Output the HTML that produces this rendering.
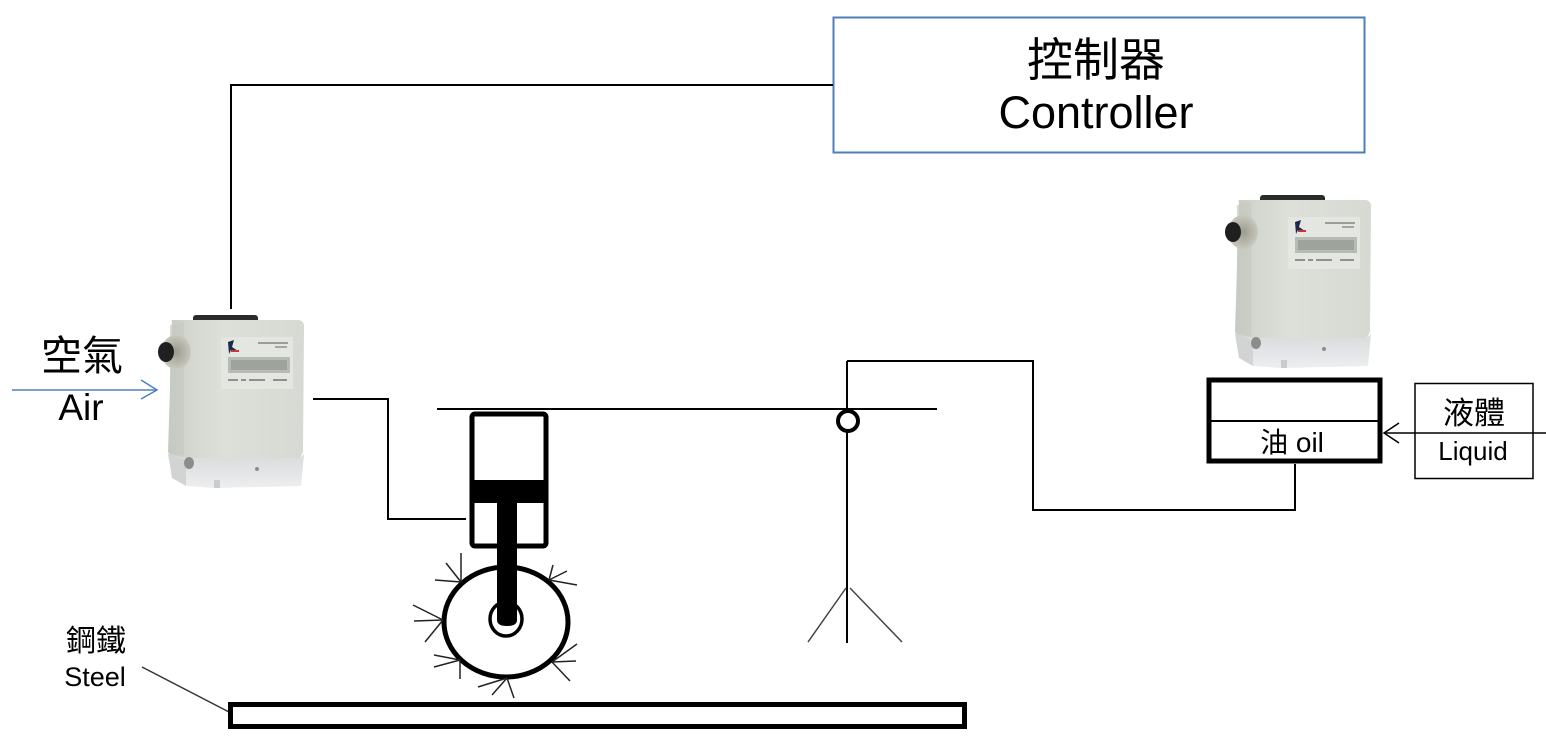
<!DOCTYPE html>
<html>
<head>
<meta charset="utf-8">
<style>
  html, body { margin:0; padding:0; background:#ffffff; }
  body { width:1546px; height:748px; overflow:hidden; }
  svg { display:block; }
  text { font-family: "Liberation Sans", "Noto Sans CJK TC", sans-serif; fill:#000; }
</style>
</head>
<body>
<svg width="1546" height="748" viewBox="0 0 1546 748" xmlns="http://www.w3.org/2000/svg">
  <defs>
    <linearGradient id="bodyG" x1="0" y1="0" x2="1" y2="0">
      <stop offset="0" stop-color="#c4c9c1"/>
      <stop offset="0.15" stop-color="#d3d7cf"/>
      <stop offset="0.4" stop-color="#dde0d9"/>
      <stop offset="1" stop-color="#d6dad3"/>
    </linearGradient>
    <linearGradient id="baseG" x1="0" y1="0" x2="0" y2="1">
      <stop offset="0" stop-color="#d8dadc"/>
      <stop offset="1" stop-color="#eceef0"/>
    </linearGradient>
    <radialGradient id="connG" cx="0.5" cy="0.5" r="0.5">
      <stop offset="0" stop-color="#9a9a90"/>
      <stop offset="1" stop-color="#c8c8bc"/>
    </radialGradient>
    <g id="device">
      <rect x="193" y="315" width="65" height="9" rx="3" fill="#2b2b2b"/>
      <path d="M172 322 Q170 320 174 320 L299 320 Q304 321 304 326 L303 452 L300 458 L172 458 L168 452 Z" fill="url(#bodyG)"/>
      <path d="M170 325 L184 322 L184 456 L170 452 Z" fill="#c6cbc3" opacity="0.7"/>
      <rect x="221" y="337" width="72" height="52" fill="#e4e7e1"/>
      <path d="M228 342 L234 340 L232 347 L238 351 L231 350 L229 354 Z" fill="#1d2a4a"/>
      <rect x="231" y="350" width="8" height="2" fill="#c33"/>
      <rect x="258" y="342" width="30" height="2" fill="#9a9e98"/>
      <rect x="275" y="346" width="12" height="2" fill="#a4a8a2"/>
      <rect x="228" y="357" width="62" height="16" fill="#b6bbb3"/>
      <rect x="231" y="360" width="56" height="10" fill="#9ea39b"/>
      <rect x="228" y="379" width="10" height="2" fill="#8e928c"/>
      <rect x="241" y="379" width="5" height="2" fill="#8e928c"/>
      <rect x="249" y="379" width="16" height="2" fill="#8e928c"/>
      <rect x="273" y="379" width="14" height="2" fill="#8e928c"/>
      <ellipse cx="176" cy="352" rx="15" ry="17" fill="url(#connG)"/>
      <ellipse cx="166" cy="352" rx="8" ry="10" fill="#1f1f1f"/>
      <path d="M168 454 L186 458 L300 458 L304 454 L301 486 L214 488 L186 486 Z" fill="url(#baseG)"/>
      <path d="M168 454 L186 460 L186 486 L172 478 Z" fill="#d2d4d4"/>
      <ellipse cx="189" cy="463" rx="5" ry="6" fill="#8b8d8d"/>
      <circle cx="257" cy="469" r="2" fill="#8c8e8e"/>
      <rect x="214" y="480" width="6" height="8" fill="#c9cbcc"/>
    </g>
  </defs>

  <!-- Controller box -->
  <rect x="833.5" y="17.5" width="531" height="135" fill="#fff" stroke="#4f7db8" stroke-width="2"/>
  <text x="1096" y="76" font-size="46" text-anchor="middle">控制器</text>
  <text x="1096" y="128" font-size="45" text-anchor="middle">Controller</text>

  <polyline points="231,309 231,85 833,85" fill="none" stroke="#000" stroke-width="2"/>

  <use href="#device"/>
  <use href="#device" transform="translate(1067,-120)"/>

  <!-- Air label + arrow -->
  <text x="82" y="370" font-size="41" text-anchor="middle">空氣</text>
  <text x="81" y="420" font-size="37" text-anchor="middle">Air</text>
  <line x1="12" y1="390" x2="156" y2="390" stroke="#4f81bd" stroke-width="1.5"/>
  <polyline points="141,380 157,390 141,399" fill="none" stroke="#4f81bd" stroke-width="1.5"/>

  <polyline points="313,399 388,399 388,519 466,519" fill="none" stroke="#000" stroke-width="2"/>

  <line x1="437" y1="409" x2="937" y2="409" stroke="#000" stroke-width="2"/>

  <!-- cylinder -->
  <rect x="472" y="414" width="74" height="132" rx="3" fill="#fff" stroke="#000" stroke-width="5"/>
  <rect x="472" y="480" width="74" height="23" fill="#000"/>
  <ellipse cx="506" cy="622" rx="62" ry="55" fill="#fff" stroke="#000" stroke-width="5"/>
  <ellipse cx="506" cy="619" rx="16" ry="17" fill="#fff" stroke="#000" stroke-width="3.5"/>
  <path d="M497 503 L517 503 L517 620 Q517 626 507 626 Q497 626 497 620 Z" fill="#000"/>

  <g stroke="#222" stroke-width="1.5" fill="none">
    <line x1="461" y1="582" x2="461" y2="553"/>
    <line x1="461" y1="582" x2="446" y2="563"/>
    <line x1="461" y1="582" x2="435" y2="580"/>
    <line x1="443" y1="620" x2="413" y2="605"/>
    <line x1="443" y1="620" x2="414" y2="621"/>
    <line x1="443" y1="620" x2="425" y2="642"/>
    <line x1="460" y1="660" x2="434" y2="655"/>
    <line x1="460" y1="660" x2="434" y2="667"/>
    <line x1="460" y1="660" x2="460" y2="679"/>
    <line x1="507" y1="678" x2="478" y2="687"/>
    <line x1="507" y1="678" x2="492" y2="695"/>
    <line x1="507" y1="678" x2="514" y2="698"/>
    <line x1="552" y1="662" x2="577" y2="644"/>
    <line x1="552" y1="662" x2="576" y2="661"/>
    <line x1="552" y1="662" x2="570" y2="681"/>
    <line x1="549" y1="580" x2="553" y2="565"/>
    <line x1="549" y1="580" x2="567" y2="571"/>
    <line x1="549" y1="580" x2="577" y2="585"/>
  </g>

  <!-- pivot / stand -->
  <line x1="847" y1="361" x2="847" y2="643" stroke="#000" stroke-width="2"/>
  <circle cx="848" cy="421" r="10" fill="#fff" stroke="#000" stroke-width="4"/>
  <line x1="846" y1="588" x2="808" y2="642" stroke="#444" stroke-width="1.5"/>
  <line x1="850" y1="588" x2="902" y2="642" stroke="#444" stroke-width="1.5"/>

  <polyline points="847,361 1033,361 1033,510 1295,510 1295,464" fill="none" stroke="#000" stroke-width="2"/>

  <!-- oil box -->
  <rect x="1209" y="380" width="171" height="81" fill="#fff" stroke="#000" stroke-width="5"/>
  <line x1="1209" y1="421" x2="1380" y2="421" stroke="#000" stroke-width="2"/>
  <text x="1292" y="452" font-size="28" text-anchor="middle">油 oil</text>

  <!-- liquid box -->
  <rect x="1415" y="383.5" width="118" height="95" fill="#fff" stroke="#000" stroke-width="1.5"/>
  <text x="1474" y="424" font-size="31" text-anchor="middle">液體</text>
  <text x="1473" y="460" font-size="26" text-anchor="middle">Liquid</text>
  <line x1="1384" y1="433" x2="1546" y2="433" stroke="#000" stroke-width="1.5"/>
  <polyline points="1399,423 1384,433 1399,443" fill="none" stroke="#000" stroke-width="1.5"/>

  <!-- steel -->
  <text x="96" y="651" font-size="30" text-anchor="middle">鋼鐵</text>
  <text x="95" y="686" font-size="27" text-anchor="middle">Steel</text>
  <line x1="142" y1="667" x2="229" y2="712" stroke="#333" stroke-width="1.5"/>
  <rect x="230.5" y="704.5" width="734" height="22" fill="#fff" stroke="#000" stroke-width="5"/>
</svg>
</body>
</html>
